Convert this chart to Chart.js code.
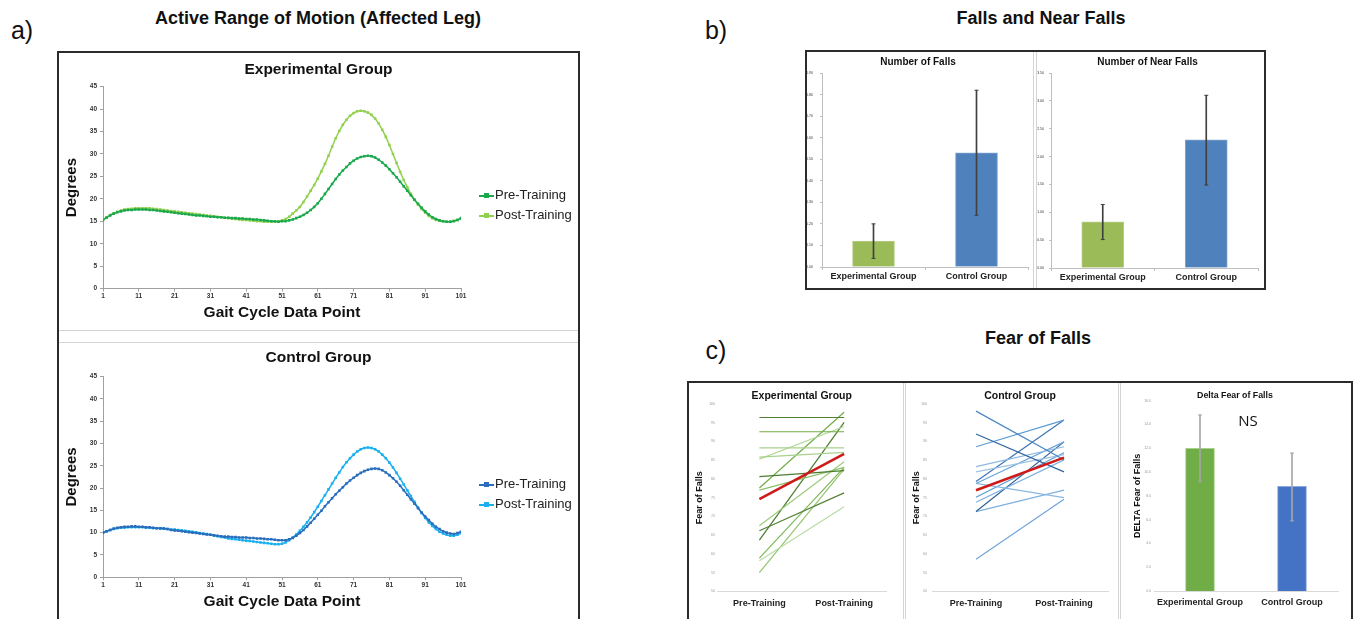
<!DOCTYPE html>
<html>
<head>
<meta charset="utf-8">
<title>Range of motion, falls and fear of falls</title>
<script src="https://cdn.jsdelivr.net/npm/chart.js@4.4.1/dist/chart.umd.min.js"></script>
<style>
  body { margin:0; background:#fff; font-family:'Liberation Sans', Arial, sans-serif; }
  #page { position:relative; width:1354px; height:619px; overflow:hidden; }
  .head { position:absolute; font-size:18px; font-weight:bold; color:#111; transform:translate(-50%,-50%); white-space:nowrap; }
  .tag { position:absolute; font-size:25px; color:#111; transform:translate(-50%,-50%); }
  .frame { position:absolute; border:2px solid #2b2b2b; box-sizing:border-box; }
  .sep { position:absolute; background:#d4d4d4; }
  .leg { position:absolute; font-size:13px; color:#222; white-space:nowrap; line-height:16px; }
  .leg span { display:inline-block; position:relative; width:15px; height:2px; vertical-align:middle; margin-right:1px; }
  .leg i { position:absolute; left:5px; top:-1.5px; width:5px; height:5px; }
  canvas { position:absolute; }
</style>
</head>
<body>
<div id="page">
  <div class="tag" style="left:22px;top:30px">a)</div>
  <div class="head" style="left:318px;top:18px">Active Range of Motion (Affected Leg)</div>
  <div class="tag" style="left:716px;top:30px">b)</div>
  <div class="head" style="left:1041px;top:18px">Falls and Near Falls</div>
  <div class="tag" style="left:716px;top:350px">c)</div>
  <div class="head" style="left:1038px;top:338px">Fear of Falls</div>

  <div class="frame" style="left:57px;top:51px;width:523px;height:620px"></div>
  <div class="sep" style="left:59px;top:330px;width:519px;height:1px"></div>
  <div class="sep" style="left:59px;top:342px;width:519px;height:1px"></div>

  <div class="frame" style="left:805px;top:50px;width:461px;height:240px"></div>
  <div class="sep" style="left:1033px;top:52px;width:1px;height:236px"></div>
  <div class="sep" style="left:1036px;top:52px;width:1px;height:236px"></div>

  <div class="frame" style="left:687px;top:381px;width:666px;height:260px"></div>
  <div class="sep" style="left:903px;top:383px;width:1px;height:236px"></div>
  <div class="sep" style="left:905px;top:383px;width:1px;height:236px"></div>
  <div class="sep" style="left:1118px;top:383px;width:1px;height:236px"></div>
  <div class="sep" style="left:1120px;top:383px;width:1px;height:236px"></div>

  <canvas id="romExp" width="519" height="276" style="left:59px;top:53px"></canvas>
  <canvas id="romCtrl" width="519" height="276" style="left:59px;top:343px"></canvas>
  <canvas id="falls" width="226" height="234" style="left:807px;top:53px"></canvas>
  <canvas id="nearFalls" width="226" height="234" style="left:1037px;top:53px"></canvas>
  <canvas id="fearExp" width="213" height="235" style="left:690px;top:384px"></canvas>
  <canvas id="fearCtrl" width="214" height="235" style="left:905px;top:384px"></canvas>
  <canvas id="fearDelta" width="231" height="235" style="left:1121px;top:384px"></canvas>

  <div class="leg" style="left:479px;top:187px"><span style="background:#1aa84c"><i style="background:#1aa84c"></i></span>Pre-Training</div>
  <div class="leg" style="left:479px;top:207px"><span style="background:#92d050"><i style="background:#92d050"></i></span>Post-Training</div>
  <div class="leg" style="left:479px;top:476px"><span style="background:#2a6ebb"><i style="background:#2a6ebb"></i></span>Pre-Training</div>
  <div class="leg" style="left:479px;top:496px"><span style="background:#1ab0ef"><i style="background:#1ab0ef"></i></span>Post-Training</div>

  <div class="head" style="left:1248px;top:420px;font:15px 'Open Sans', sans-serif">NS</div>
</div>

<script>
// gait cycle, 1..101
var gaitTicks = [1, 11, 21, 31, 41, 51, 61, 71, 81, 91, 101];

var expPre = [
  15.3, 15.8, 16.3, 16.7, 17.0, 17.2, 17.4, 17.5, 17.5, 17.6,
  17.6, 17.6, 17.6, 17.5, 17.5, 17.4, 17.3, 17.2, 17.1, 17.0,
  16.9, 16.8, 16.7, 16.6, 16.5, 16.4, 16.3, 16.3, 16.2, 16.1,
  16.0, 16.0, 15.9, 15.9, 15.8, 15.8, 15.7, 15.7, 15.6, 15.6,
  15.5, 15.5, 15.4, 15.4, 15.3, 15.2, 15.1, 15.0, 15.0, 14.9,
  15.0, 15.0, 15.2, 15.4, 15.7, 16.0, 16.4, 16.9, 17.5, 18.2,
  19.0, 20.0, 21.1, 22.2, 23.3, 24.4, 25.4, 26.3, 27.1, 27.9,
  28.5, 29.0, 29.3, 29.5, 29.6, 29.5, 29.2, 28.7, 28.1, 27.4,
  26.6, 25.7, 24.8, 23.8, 22.8, 21.8, 20.8, 19.8, 18.9, 18.0,
  17.2, 16.5, 15.9, 15.5, 15.2, 15.0, 14.9, 14.9, 15.0, 15.3, 15.7];
var expPost = [
  15.3, 15.9, 16.4, 16.8, 17.1, 17.4, 17.6, 17.7, 17.8, 17.9,
  17.9, 17.9, 17.9, 17.9, 17.8, 17.7, 17.6, 17.5, 17.4, 17.3,
  17.2, 17.1, 17.0, 16.9, 16.8, 16.7, 16.6, 16.5, 16.4, 16.3,
  16.2, 16.1, 16.0, 15.9, 15.8, 15.7, 15.6, 15.5, 15.4, 15.3,
  15.3, 15.2, 15.1, 15.0, 15.0, 14.9, 14.9, 14.9, 14.9, 15.0,
  15.2, 15.5, 16.0, 16.7, 17.4, 18.2, 19.3, 20.5, 21.8, 23.1,
  24.5, 26.1, 27.8, 29.6, 31.6, 33.5, 35.1, 36.5, 37.6, 38.5,
  39.1, 39.5, 39.6, 39.5, 39.2, 38.7, 37.9, 36.8, 35.4, 33.8,
  32.0, 30.0, 28.0, 26.0, 24.2, 22.6, 21.1, 19.8, 18.7, 17.7,
  16.9, 16.2, 15.7, 15.3, 15.1, 15.0, 14.9, 14.9, 15.1, 15.3, 15.6];
var ctrlPre = [
  10.0, 10.3, 10.6, 10.9, 11.1, 11.2, 11.3, 11.3, 11.4, 11.4,
  11.3, 11.3, 11.2, 11.2, 11.1, 11.0, 11.0, 10.9, 10.8, 10.6,
  10.5, 10.4, 10.3, 10.2, 10.1, 10.0, 9.9, 9.8, 9.7, 9.6,
  9.5, 9.4, 9.3, 9.2, 9.1, 9.1, 9.0, 9.0, 8.9, 8.9,
  8.9, 8.8, 8.8, 8.7, 8.7, 8.6, 8.5, 8.5, 8.4, 8.3,
  8.3, 8.3, 8.5, 8.8, 9.3, 9.9, 10.6, 11.4, 12.2, 13.1,
  14.0, 14.9, 15.9, 16.8, 17.7, 18.6, 19.4, 20.2, 21.0, 21.7,
  22.3, 22.9, 23.4, 23.8, 24.1, 24.3, 24.4, 24.3, 24.0, 23.5,
  22.9, 22.2, 21.4, 20.5, 19.5, 18.5, 17.5, 16.5, 15.5, 14.5,
  13.6, 12.8, 12.0, 11.3, 10.8, 10.3, 10.0, 9.8, 9.7, 9.9, 10.2];
var ctrlPost = [
  10.0, 10.3, 10.6, 10.8, 11.0, 11.1, 11.1, 11.2, 11.2, 11.2,
  11.2, 11.2, 11.1, 11.1, 11.0, 11.0, 10.9, 10.9, 10.8, 10.7,
  10.7, 10.6, 10.5, 10.4, 10.3, 10.2, 10.1, 9.9, 9.8, 9.7,
  9.5, 9.3, 9.2, 9.0, 8.9, 8.7, 8.6, 8.5, 8.4, 8.3,
  8.2, 8.1, 8.0, 7.9, 7.8, 7.7, 7.6, 7.5, 7.4, 7.4,
  7.5, 7.8, 8.3, 8.9, 9.6, 10.4, 11.3, 12.3, 13.4, 14.6,
  15.8, 17.1, 18.4, 19.7, 21.0, 22.3, 23.5, 24.7, 25.8, 26.7,
  27.5, 28.2, 28.7, 29.0, 29.1, 29.0, 28.7, 28.2, 27.5, 26.7,
  25.7, 24.6, 23.4, 22.1, 20.8, 19.5, 18.2, 16.9, 15.6, 14.4,
  13.3, 12.3, 11.5, 10.8, 10.2, 9.8, 9.5, 9.3, 9.3, 9.5, 9.9];

var groups = ['Experimental Group', 'Control Group'];
var fallsMean = [0.12, 0.53];
var fallsLow = [0.04, 0.24];
var fallsHigh = [0.20, 0.82];
var nearMean = [0.83, 2.30];
var nearLow = [0.51, 1.49];
var nearHigh = [1.14, 3.10];

var sessions = ['Pre-Training', 'Post-Training'];
var fearExpPre = [96.4, 92.6, 88.3, 85.8, 85.3, 80.6, 77.6, 77.0, 67.5, 66.2, 63.7, 58.9, 58.2, 55.0];
var fearExpPost = [96.4, 92.6, 88.3, 87.1, 94.0, 82.2, 97.8, 83.1, 84.6, 76.3, 95.1, 83.1, 72.6, 82.6];
var fearExpMean = [74.6, 86.7];
var fearCtrlPre = [98.1, 92.0, 88.6, 83.3, 81.9, 79.3, 78.8, 78.8, 75.1, 73.8, 71.3, 71.3, 58.6];
var fearCtrlPost = [85.1, 81.9, 95.7, 88.6, 86.5, 95.7, 89.9, 75.0, 87.0, 85.1, 89.9, 77.0, 74.6];
var fearCtrlMean = [77.0, 85.7];

var deltaMean = [12.0, 8.8];
var deltaLow = [9.2, 5.9];
var deltaHigh = [14.8, 11.6];

var expShades = ['#548235', '#70ad47', '#a9d18e', '#a9d18e', '#b5d99c', '#4e7d31', '#70ad47',
  '#8cc168', '#9bcb7c', '#548235', '#4a7a2e', '#7db756', '#b9dca2', '#92c46f'];
var ctrlShades = ['#4a86c5', '#2f65a0', '#5b9bd5', '#8ab8e3', '#9dc3e6', '#3d74b4', '#6fa5da',
  '#8ab8e3', '#5b9bd5', '#7eb0e0', '#2e5f96', '#7eb0e0', '#6fa5da'];

Chart.defaults.font.family = "'Liberation Sans', Arial, Helvetica, sans-serif";
Chart.defaults.color = '#222';
Chart.defaults.animation = false;
Chart.defaults.plugins.legend.display = false;
Chart.defaults.plugins.tooltip.enabled = false;

function bold(size) { return { size: size, weight: 'bold' }; }

function romChart(id, title, pre, post, preColor, postColor, titlePad, bottomPad) {
  var gait = [];
  for (var i = 1; i <= 101; i++) gait.push(i);
  var line = function(data, color) {
    return { data: data, borderColor: color, backgroundColor: color, borderWidth: 1.5,
      pointRadius: 1.8, pointStyle: 'rect', pointBorderWidth: 0 };
  };
  return new Chart(document.getElementById(id), {
    type: 'line',
    data: { labels: gait, datasets: [line(pre, preColor), line(post, postColor)] },
    options: {
      responsive: false,
      layout: { padding: { bottom: bottomPad } },
      plugins: { title: { display: true, text: title, font: bold(15.5), color: '#111', padding: titlePad } },
      scales: {
        x: {
          type: 'linear', min: 1, max: 101,
          afterBuildTicks: function(s) { s.ticks = gaitTicks.map(function(v) { return { value: v }; }); },
          grid: { drawOnChartArea: false, tickLength: 3, color: '#a0a0a0' },
          border: { color: '#a0a0a0' },
          ticks: { font: bold(6.5), color: '#333', padding: 1, maxRotation: 0, autoSkip: false },
          title: { display: true, text: 'Gait Cycle Data Point', font: bold(15.5), color: '#111', padding: { top: 2, bottom: 0 } }
        },
        y: {
          min: 0, max: 45,
          ticks: { stepSize: 5, font: bold(6.5), color: '#333', padding: 3 },
          grid: { drawOnChartArea: false, tickLength: 3, color: '#a0a0a0' },
          border: { color: '#a0a0a0' },
          title: { display: true, text: 'Degrees', font: bold(15), color: '#111', padding: { top: 4, bottom: 0 } },
          afterFit: function(s) { s.width = 44; }
        },
        // keeps room for the legend on the right
        spacer: {
          position: 'right', grid: { display: false }, border: { display: false }, ticks: { display: false },
          afterFit: function(s) { s.width = 117; }
        }
      }
    }
  });
}

function errorBarChart(id, cfg) {
  var stems = cfg.low.map(function(l, i) { return [l, cfg.high[i]]; });
  var cap = function(data) {
    return { type: 'line', data: data, showLine: false, pointStyle: 'line', pointRadius: cfg.capR,
      borderColor: cfg.errColor, pointBorderWidth: 1, order: 0 };
  };
  return new Chart(document.getElementById(id), {
    type: 'bar',
    data: {
      labels: groups,
      datasets: [
        { data: stems, backgroundColor: cfg.errColor, barThickness: cfg.errW, grouped: false, order: 0 },
        cap(cfg.high), cap(cfg.low),
        { data: cfg.mean, backgroundColor: cfg.colors, borderColor: cfg.borders, borderWidth: 1,
          barThickness: cfg.barW, grouped: false, order: 1 }
      ]
    },
    options: {
      responsive: false,
      layout: { padding: cfg.pad },
      plugins: { title: { display: true, text: cfg.title, font: bold(cfg.titleSize), color: '#111', padding: cfg.titlePad } },
      scales: {
        x: {
          grid: { display: cfg.xTicks, drawTicks: cfg.xTicks, drawOnChartArea: false, tickLength: 3, color: cfg.axisColor },
          border: { color: cfg.axisColor },
          ticks: { font: bold(9), color: '#222', padding: cfg.xPad, maxRotation: 0, autoSkip: false }
        },
        y: {
          min: 0, max: cfg.yMax,
          ticks: { stepSize: cfg.yStep, font: { size: 3.5 }, color: cfg.tickColor, padding: cfg.yPad,
            callback: function(v) { return v.toFixed(cfg.decimals); } },
          grid: { display: cfg.yTicks, drawTicks: cfg.yTicks, drawOnChartArea: false, tickLength: 2, color: cfg.axisColor },
          border: { display: cfg.yTicks, color: cfg.axisColor },
          title: { display: !!cfg.yTitle, text: cfg.yTitle, font: bold(9), color: '#111', padding: { top: 0, bottom: 0 } },
          afterFit: function(s) { s.width = cfg.yWidth; }
        }
      }
    }
  });
}

function fearChart(id, title, pre, post, shades, mean, yWidth, yTitlePad, tickPad, rightPad) {
  var sets = pre.map(function(v, i) {
    return { data: [v, post[i]], borderColor: shades[i], borderWidth: 1.2, pointRadius: 0, order: 1 };
  });
  sets.push({ data: mean, borderColor: '#d01a1a', borderWidth: 2.6, pointRadius: 0, order: 0 });
  return new Chart(document.getElementById(id), {
    type: 'line',
    data: { labels: sessions, datasets: sets },
    options: {
      responsive: false,
      layout: { padding: { right: rightPad, bottom: 3.6 } },
      plugins: { title: { display: true, fullSize: false, text: title, font: bold(10.5), color: '#111', padding: { top: 6, bottom: 1.4 } } },
      scales: {
        x: {
          offset: true,
          grid: { display: false, drawTicks: false },
          border: { color: '#d9d9d9' },
          ticks: { font: bold(9), color: '#222', padding: 6.6, maxRotation: 0 }
        },
        y: {
          min: 50, max: 100,
          ticks: { stepSize: 5, font: { size: 3.5 }, color: '#999', padding: tickPad },
          grid: { display: false, drawTicks: false },
          border: { display: false },
          title: { display: true, text: 'Fear of Falls', font: bold(9), color: '#111', padding: { top: yTitlePad, bottom: 0 } },
          afterFit: function(s) { s.width = yWidth; }
        }
      }
    }
  });
}

romChart('romExp', 'Experimental Group', expPre, expPost, '#1aa84c', '#92d050', { top: 7, bottom: 8 }, 7);
romChart('romCtrl', 'Control Group', ctrlPre, ctrlPost, '#2a6ebb', '#1ab0ef', { top: 5, bottom: 10 }, 8.4);

var fallsStyle = {
  colors: ['#9bbb59', '#4f81bd'], borders: ['#b9cf8a', '#7fa3cf'], errColor: '#404040', errW: 1, capR: 2,
  barW: 42, titleSize: 10, titlePad: { top: 3, bottom: 5 }, axisColor: '#bfbfbf', tickColor: '#333',
  xTicks: true, yTicks: true, xPad: 1, yPad: 7, decimals: 2
};
errorBarChart('falls', Object.assign({}, fallsStyle, {
  title: 'Number of Falls', mean: fallsMean, low: fallsLow, high: fallsHigh, yMax: 0.9, yStep: 0.1,
  yWidth: 15, pad: { right: 4, bottom: 4.2 }
}));
errorBarChart('nearFalls', Object.assign({}, fallsStyle, {
  title: 'Number of Near Falls', mean: nearMean, low: nearLow, high: nearHigh, yMax: 3.5, yStep: 0.5,
  yWidth: 14, yPad: 5, pad: { right: 5, bottom: 3.2 }
}));

fearChart('fearExp', 'Experimental Group', fearExpPre, fearExpPost, expShades, fearExpMean, 27, 4.6, 2, 16.5);
fearChart('fearCtrl', 'Control Group', fearCtrlPre, fearCtrlPost, ctrlShades, fearCtrlMean, 27, 6.6, 5, 11);

errorBarChart('fearDelta', {
  title: 'Delta Fear of Falls', mean: deltaMean, low: deltaLow, high: deltaHigh, yMax: 16, yStep: 2,
  colors: ['#70ad47', '#4472c4'], borders: ['#a9d18e', '#8faadc'], errColor: '#a6a6a6', errW: 1, capR: 2,
  barW: 29, titleSize: 8.8, titlePad: { top: 6, bottom: 0.14 }, axisColor: '#d9d9d9', tickColor: '#999',
  xTicks: false, yTicks: false, xPad: 5.6, yPad: 3, decimals: 1, yTitle: 'DELTA Fear of Falls',
  yWidth: 22, pad: { left: 11, right: 14, bottom: 5.9 }
});
</script>
</body>
</html>
